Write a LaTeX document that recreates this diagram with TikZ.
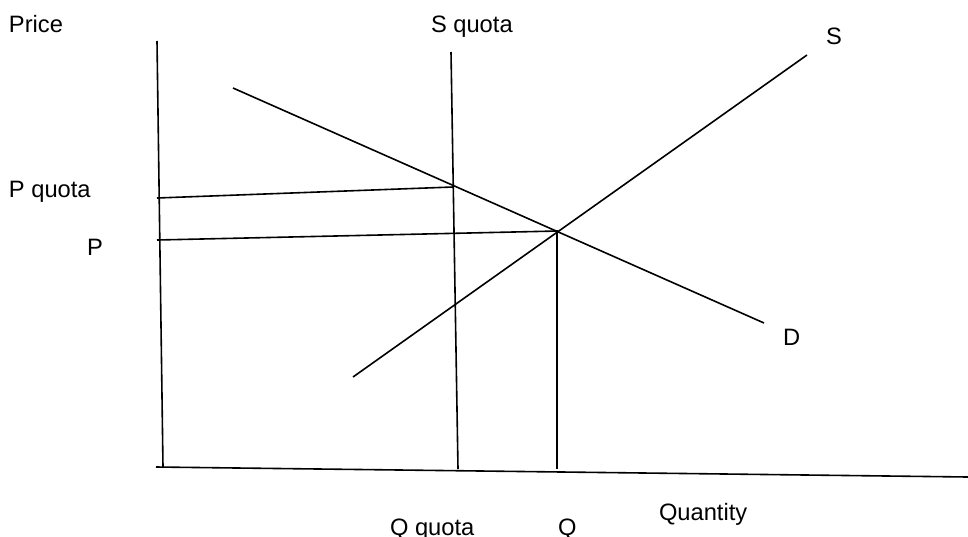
\documentclass[tikz,border=0pt]{standalone}
\usepackage{fontspec}
\setmainfont{Liberation Sans}
\begin{document}
\begin{tikzpicture}[x=1pt,y=-1pt,
  curve/.style={draw=black,line width=1.6pt},
  lbl/.style={anchor=base west,inner sep=0pt,outer sep=0pt,font=\fontsize{23.7}{28}\selectfont}]
\useasboundingbox[fill=white] (0,0) rectangle (968,536);
% end points
\coordinate (ytop) at (157,41);
\coordinate (ybot) at (163,467);
\coordinate (xl) at (156,467);
\coordinate (xr) at (968,477);
\coordinate (sqtop) at (451,52);
\coordinate (sqbot) at (458,469);
\coordinate (dtop) at (233,88);
\coordinate (dbot) at (764,323);
\coordinate (sbot) at (353,377);
\coordinate (stop) at (807,55);
\coordinate (pql) at (157,198);
\coordinate (pqr) at (453,187);
\coordinate (pl) at (157,240);
\coordinate (eq) at (558,231);
\coordinate (qbot) at (557,469);
\coordinate (qtop) at (557,231);
% lines
\draw[curve] (ytop) -- (ybot);
\draw[curve] (xl) -- (xr);
\draw[curve] (sqtop) -- (sqbot);
\draw[curve] (dtop) -- (dbot);
\draw[curve] (sbot) -- (stop);
\draw[curve] (pql) -- (pqr);
\draw[curve] (pl) -- (eq);
\draw[curve] (qtop) -- (qbot);
% labels
\node[lbl] (price) at (9,32) {Price};
\node[lbl] (squota) at (431,32) {S quota};
\node[lbl] (slab) at (826,44) {S};
\node[lbl] (pquota) at (9,197) {P quota};
\node[lbl] (plab) at (87,255) {P};
\node[lbl] (dlab) at (783,345) {D};
\node[lbl] (qquota) at (390,535) {Q quota};
\node[lbl] (qlab) at (558,535) {Q};
\node[lbl] (quantity) at (659,520) {Quantity};
\end{tikzpicture}
\end{document}
